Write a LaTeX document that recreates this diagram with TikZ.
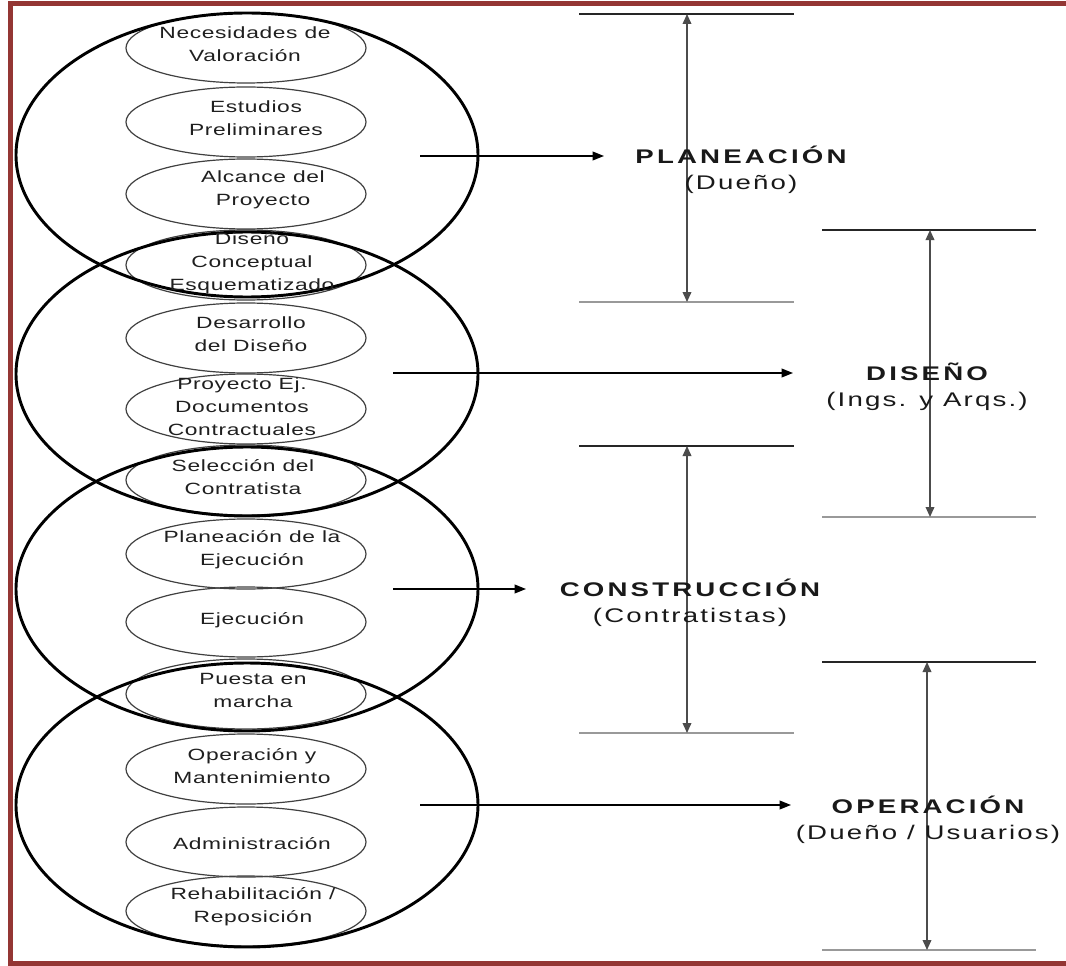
\documentclass[tikz,border=0pt]{standalone}
\usepackage{fontspec}
\setmainfont{Liberation Sans}
\newfontfamily\bodyf{Liberation Sans}[FakeStretch=1.4,LetterSpace=4]
\newfontfamily\titlef{Liberation Sans}[FakeStretch=1.4,LetterSpace=16]
\newfontfamily\subf{Liberation Sans}[FakeStretch=1.4,LetterSpace=11]
\usetikzlibrary{shapes.geometric,arrows.meta}
\definecolor{framered}{HTML}{943634}
\begin{document}
\begin{tikzpicture}[x=0.75pt,y=-0.75pt,
  bigc/.style={draw=black, line width=2.2pt, ellipse, minimum width=346.5pt, minimum height=213pt, inner sep=0pt},
  smallel/.style={draw=black!75, line width=0.9pt, ellipse, minimum width=180pt, minimum height=52.5pt, inner sep=0pt},
  bodytxt/.style={font=\bodyf\fontsize{12.2pt}{17.25pt}\selectfont, align=center, text=black!88, inner sep=0pt},
  phase/.style={font=\fontsize{14.8pt}{19.5pt}\selectfont, align=center, inner sep=0pt, text=black!90},
  flow/.style={line width=1.2pt, -{Triangle[length=8.5pt,width=6.5pt]}},
  toph/.style={line width=1.4pt, black!85},
  both/.style={line width=1.8pt, black!40},
  span/.style={line width=1.1pt, black!70, {Triangle[length=7.5pt,width=6.5pt]}-{Triangle[length=7.5pt,width=6.5pt]}}
]
\useasboundingbox (0,0) rectangle (1066,966);
\fill[white] (0,0) rectangle (1066,966);
% frame
\draw[framered, line width=3.75pt] (1070,4) -- (10,4) -- (10,963) -- (1070,963);

% small ellipses
\node[smallel] (e1)  at (246,48)  {};
\node[smallel] (e2)  at (246,122) {};
\node[smallel] (e3)  at (246,194) {};
\node[smallel] (e4)  at (246,265) {};
\node[smallel] (e5)  at (246,338) {};
\node[smallel] (e6)  at (246,409) {};
\node[smallel] (e7)  at (246,480) {};
\node[smallel] (e8)  at (246,554) {};
\node[smallel] (e9)  at (246,622) {};
\node[smallel] (e10) at (246,694) {};
\node[smallel] (e11) at (246,769) {};
\node[smallel] (e12) at (246,842) {};
\node[smallel] (e13) at (246,911) {};

% big circles
\node[bigc] (c1) at (247,155) {};
\node[bigc] (c2) at (247,374) {};
\node[bigc] (c3) at (247,589) {};
\node[bigc] (c4) at (247,805) {};

% texts
\node[bodytxt] (t1)  at (245,44)  {Necesidades de\\Valoración};
\node[bodytxt] (t2)  at (256,118) {Estudios\\Preliminares};
\node[bodytxt] (t3)  at (263,190) {Alcance del\\Proyecto};
\node[bodytxt] (t4)  at (252,263) {Diseño\\Conceptual\\Esquematizado};
\node[bodytxt] (t5)  at (251,334) {Desarrollo\\del Diseño};
\node[bodytxt] (t6)  at (242,407) {Proyecto Ej.\\Documentos\\Contractuales};
\node[bodytxt] (t7)  at (243,477) {Selección del\\Contratista};
\node[bodytxt] (t8)  at (252,550) {Planeación de la\\Ejecución};
\node[bodytxt] (t9)  at (252,620) {Ejecución};
\node[bodytxt] (t10) at (253,690) {Puesta en\\marcha};
\node[bodytxt] (t11) at (252,766) {Operación y\\Mantenimiento};
\node[bodytxt] (t12) at (252,844) {Administración};
\node[bodytxt] (t13) at (253,907) {Rehabilitación /\\Reposición};

% brackets
\coordinate (p1a) at (579,14);  \coordinate (p1b) at (794,14);
\coordinate (p1c) at (579,302); \coordinate (p1d) at (794,302);
\coordinate (p1t) at (687,14);  \coordinate (p1u) at (687,302);
\draw[toph] (p1a) -- (p1b);
\draw[both] (p1c) -- (p1d);
\draw[span] (p1t) -- (p1u);

\coordinate (p2a) at (822,230); \coordinate (p2b) at (1036,230);
\coordinate (p2c) at (822,517); \coordinate (p2d) at (1036,517);
\coordinate (p2t) at (930,230); \coordinate (p2u) at (930,517);
\draw[toph] (p2a) -- (p2b);
\draw[both] (p2c) -- (p2d);
\draw[span] (p2t) -- (p2u);

\coordinate (p3a) at (579,446); \coordinate (p3b) at (794,446);
\coordinate (p3c) at (579,733); \coordinate (p3d) at (794,733);
\coordinate (p3t) at (687,446); \coordinate (p3u) at (687,733);
\draw[toph] (p3a) -- (p3b);
\draw[both] (p3c) -- (p3d);
\draw[span] (p3t) -- (p3u);

\coordinate (p4a) at (822,662); \coordinate (p4b) at (1036,662);
\coordinate (p4c) at (822,950); \coordinate (p4d) at (1036,950);
\coordinate (p4t) at (927,662); \coordinate (p4u) at (927,950);
\draw[toph] (p4a) -- (p4b);
\draw[both] (p4c) -- (p4d);
\draw[span] (p4t) -- (p4u);

% phase labels
\node[phase] (l1) at (741,170) {{\titlef\bfseries PLANEACIÓN}\\{\subf (Dueño)}};
\node[phase] (l2) at (927,387) {{\titlef\bfseries DISEÑO}\\{\subf (Ings. y Arqs.)}};
\node[phase] (l3) at (690,603) {{\titlef\bfseries CONSTRUCCIÓN}\\{\subf (Contratistas)}};
\node[phase] (l4) at (928,820) {{\titlef\bfseries OPERACIÓN}\\{\subf (Dueño / Usuarios)}};

% flow arrows
\coordinate (a1s) at (420,156); \coordinate (a1e) at (604,156);
\coordinate (a2s) at (393,373); \coordinate (a2e) at (793,373);
\coordinate (a3s) at (393,589); \coordinate (a3e) at (526,589);
\coordinate (a4s) at (420,805); \coordinate (a4e) at (791,805);
\draw[flow] (a1s) -- (a1e);
\draw[flow] (a2s) -- (a2e);
\draw[flow] (a3s) -- (a3e);
\draw[flow] (a4s) -- (a4e);
\end{tikzpicture}
\end{document}
